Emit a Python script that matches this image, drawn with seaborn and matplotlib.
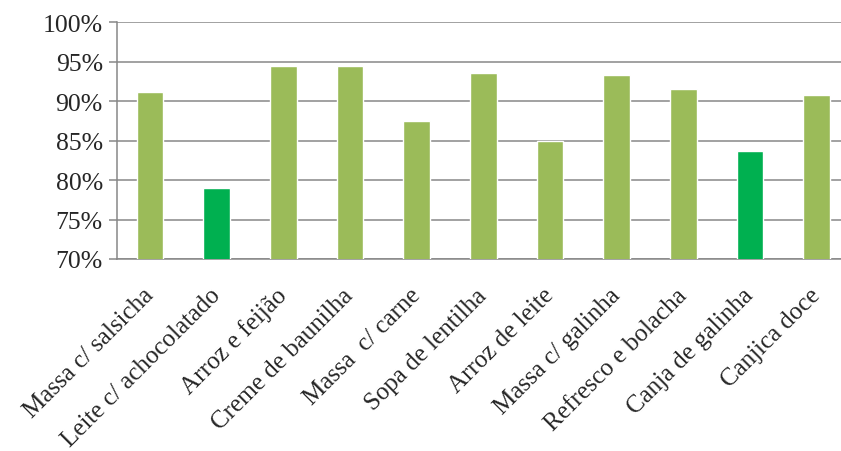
import matplotlib
matplotlib.use("Agg")
import matplotlib.pyplot as plt
import matplotlib.ticker as mtick
import pandas as pd
import seaborn as sns

# data
categories = ['Massa c/ salsicha', 'Leite c/ achocolatado', 'Arroz e feijão',
              'Creme de baunilha', 'Massa  c/ carne', 'Sopa de lentilha',
              'Arroz de leite', 'Massa c/ galinha', 'Refresco e bolacha',
              'Canja de galinha', 'Canjica doce']
acceptance = [91.2, 79.0, 94.5, 94.5, 87.5, 93.6, 85.0, 93.3, 91.6, 83.7, 90.8]
highlight = [False, True, False, False, False, False, False, False, False, True, False]

light_green = '#9BBB59'
dark_green = '#00B050'

df = pd.DataFrame({'Preparação': categories, 'Aceitação': acceptance})
colors = [dark_green if h else light_green for h in highlight]

sns.set_style('white')
plt.rcParams['font.family'] = ['Liberation Serif', 'DejaVu Serif']

fig = plt.figure(figsize=(8.41, 4.52), dpi=100)
ax = fig.add_axes([0.1388, 0.4248, 0.8719, 0.5236])

sns.barplot(data=df, x='Preparação', y='Aceitação', hue='Preparação',
            palette=colors, legend=False, width=0.4, saturation=1,
            ax=ax, zorder=3)

ax.set_ylim(70, 100)
ax.set_yticks([70, 75, 80, 85, 90, 95, 100])
ax.yaxis.set_major_formatter(mtick.PercentFormatter(decimals=0))
ax.yaxis.grid(True, color='#878787', linewidth=1.1, zorder=0)
ax.set_axisbelow(True)

for side in ['top', 'right']:
    ax.spines[side].set_visible(False)
ax.spines['left'].set_color('#878787')
ax.spines['left'].set_linewidth(1.1)
ax.spines['bottom'].set_color('#878787')
ax.spines['bottom'].set_linewidth(1.1)

ax.tick_params(axis='y', direction='out', length=6, width=1.1, color='#878787',
               labelsize=18.5, pad=4, left=True)
ax.tick_params(axis='x', length=0, labelsize=18, pad=23.5)
plt.setp(ax.get_xticklabels(), rotation=45, ha='right', va='center',
         rotation_mode='anchor')

ax.set_xlabel('')
ax.set_ylabel('')

fig.savefig('out.png', dpi=100)
